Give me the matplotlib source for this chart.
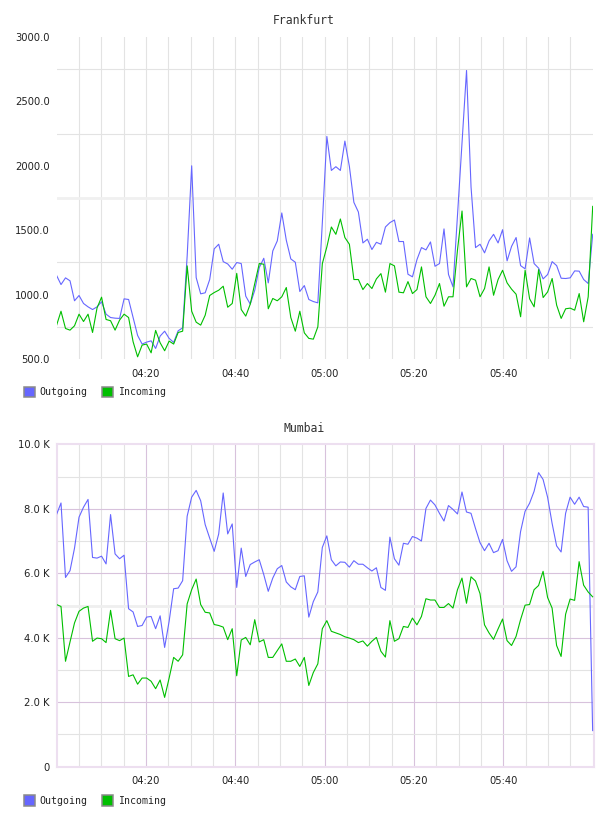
import numpy as np
import matplotlib
matplotlib.use('Agg')
import matplotlib.pyplot as plt
from matplotlib.patches import Rectangle

# time axis: 120 samples spread from 04:00 to 06:00 (minutes after 04:00)
minutes = np.arange(120) * 120 / 119
tick_pos = [20, 40, 60, 80, 100]
tick_labels = ['04:20', '04:40', '05:00', '05:20', '05:40']

# Frankfurt traffic
fra_out = [1150, 1078, 1130, 1107, 952, 993, 931, 905, 884, 905,
           944, 848, 822, 817, 815, 967, 962, 822, 683, 616,
           631, 641, 582, 678, 716, 660, 629, 719, 742, 1300,
           2000, 1132, 1006, 1014, 1117, 1355, 1391, 1256, 1238, 1197,
           1249, 1241, 988, 926, 1034, 1210, 1282, 1091, 1339, 1417,
           1634, 1422, 1277, 1251, 1024, 1070, 962, 946, 936, 1560,
           2228, 1964, 1993, 1964, 2192, 1995, 1716, 1641, 1401, 1430,
           1350, 1406, 1391, 1525, 1559, 1579, 1412, 1412, 1158, 1138,
           1272, 1365, 1347, 1409, 1220, 1241, 1510, 1156, 1060, 1620,
           2180, 2740, 1835, 1365, 1391, 1324, 1417, 1468, 1401, 1504,
           1262, 1375, 1443, 1225, 1200, 1440, 1241, 1205, 1122, 1156,
           1256, 1225, 1127, 1125, 1130, 1184, 1182, 1117, 1086, 1468]
fra_in = [760, 871, 737, 724, 758, 848, 791, 848, 706, 897,
          980, 807, 797, 724, 802, 848, 822, 634, 517, 608,
          616, 548, 722, 626, 564, 639, 616, 706, 716, 1223,
          871, 786, 763, 840, 993, 1016, 1034, 1065, 902, 931,
          1165, 884, 833, 926, 1086, 1241, 1236, 890, 970, 952,
          983, 1055, 822, 716, 871, 703, 660, 654, 750, 1241,
          1370, 1525, 1468, 1587, 1443, 1391, 1117, 1117, 1039, 1086,
          1047, 1122, 1163, 1019, 1241, 1223, 1019, 1014, 1101, 1008,
          1039, 1215, 983, 931, 995, 1086, 910, 983, 983, 1350,
          1649, 1060, 1125, 1112, 983, 1047, 1215, 995, 1117, 1189,
          1091, 1042, 1003, 828, 1189, 967, 905, 1194, 977, 1021,
          1125, 918, 815, 890, 895, 879, 1008, 789, 983, 1685]

# Mumbai traffic (thousands)
mum_out_k = [7.82, 8.18, 5.87, 6.08, 6.78, 7.74, 8.05, 8.29, 6.49, 6.47,
             6.53, 6.29, 7.82, 6.60, 6.45, 6.56, 4.90, 4.80, 4.35, 4.38,
             4.64, 4.66, 4.28, 4.68, 3.70, 4.51, 5.52, 5.54, 5.77, 7.77,
             8.36, 8.57, 8.25, 7.51, 7.09, 6.68, 7.22, 8.49, 7.22, 7.53,
             5.56, 6.78, 5.90, 6.27, 6.35, 6.42, 5.96, 5.44, 5.85, 6.14,
             6.24, 5.73, 5.58, 5.49, 5.90, 5.92, 4.64, 5.12, 5.42, 6.80,
             7.16, 6.42, 6.23, 6.35, 6.34, 6.19, 6.39, 6.28, 6.28, 6.17,
             6.07, 6.17, 5.56, 5.47, 7.12, 6.45, 6.25, 6.93, 6.90, 7.14,
             7.09, 7.00, 8.01, 8.27, 8.12, 7.86, 7.62, 8.10, 7.98, 7.84,
             8.52, 7.90, 7.86, 7.39, 6.95, 6.70, 6.93, 6.64, 6.70, 7.05,
             6.39, 6.06, 6.20, 7.29, 7.92, 8.17, 8.54, 9.12, 8.91, 8.36,
             7.55, 6.85, 6.66, 7.86, 8.36, 8.14, 8.36, 8.07, 8.05, 1.12]
mum_in_k = [5.03, 4.97, 3.27, 3.87, 4.46, 4.82, 4.92, 4.97, 3.89, 3.99,
            3.97, 3.85, 4.85, 3.97, 3.91, 3.99, 2.80, 2.85, 2.56, 2.75,
            2.75, 2.65, 2.42, 2.69, 2.15, 2.75, 3.39, 3.27, 3.47, 5.05,
            5.49, 5.82, 5.03, 4.79, 4.77, 4.41, 4.38, 4.33, 3.94, 4.28,
            2.82, 3.93, 4.01, 3.78, 4.56, 3.87, 3.94, 3.39, 3.39, 3.60,
            3.81, 3.27, 3.27, 3.34, 3.11, 3.39, 2.52, 2.92, 3.19, 4.28,
            4.53, 4.20, 4.15, 4.10, 4.03, 3.99, 3.94, 3.85, 3.90, 3.74,
            3.89, 4.01, 3.58, 3.40, 4.53, 3.89, 3.97, 4.35, 4.32, 4.61,
            4.40, 4.66, 5.21, 5.17, 5.17, 4.94, 4.94, 5.06, 4.92, 5.49,
            5.85, 5.07, 5.89, 5.76, 5.37, 4.40, 4.15, 3.95, 4.27, 4.58,
            3.91, 3.76, 4.04, 4.56, 5.01, 5.03, 5.49, 5.62, 6.06, 5.25,
            4.92, 3.76, 3.42, 4.73, 5.20, 5.16, 6.36, 5.63, 5.42, 5.27]
mum_out = np.array(mum_out_k) * 1000
mum_in = np.array(mum_in_k) * 1000

fra_yticks = [500, 1000, 1500, 2000, 2500, 3000]
mum_yticks = [0, 2000, 4000, 6000, 8000, 10000]
mum_ylabels = ['0', '2.0 K', '4.0 K', '6.0 K', '8.0 K', '10.0 K']

BLUE = '#6666ff'
GREEN = '#00bf00'
GRAY = '#e3e3e3'
MAUVE = '#d8c2dc'
W, H = 608, 816

fig = plt.figure(figsize=(W / 100, H / 100), dpi=100)


def px_axes(left, top, right, bottom):
    return fig.add_axes([left / W, 1 - bottom / H, (right - left) / W, (bottom - top) / H])


def style_ticks(ax, xmax):
    ax.set_xlim(0, xmax)
    ax.set_xticks(tick_pos)
    ax.set_xticklabels(tick_labels)
    ax.tick_params(length=0, labelsize=7.2, colors='#222222')
    ax.tick_params(axis='x', pad=7)
    ax.tick_params(axis='y', pad=4.8)


def legend(y_center):
    for x0, xt, color, label in [(24, 39, BLUE, 'Outgoing'), (102, 118, GREEN, 'Incoming')]:
        fig.add_artist(Rectangle((x0 / W, 1 - (y_center + 5.3) / H), 10.5 / W, 10.5 / H,
                                 transform=fig.transFigure, facecolor=color,
                                 edgecolor='#8a8a8a', lw=1.1))
        fig.text(xt / W, 1 - y_center / H, label, va='center', ha='left',
                 family='DejaVu Sans Mono', size=7.1, color='#222222')


# Frankfurt
ax1 = px_axes(56.5, 37, 592.7, 359)
for s in ax1.spines.values():
    s.set_visible(False)
for m in range(5, 120, 5):
    ax1.axvline(m, color=GRAY, lw=0.8, zorder=0)
for v in [750, 1250, 2250, 2750]:
    ax1.axhline(v, color=GRAY, lw=0.8, zorder=0)
ax1.axhline(1750, color='#f0f0f0', lw=2, zorder=0)
ax1.plot(minutes, fra_out, color=BLUE, lw=0.8)
ax1.plot(minutes, fra_in, color=GREEN, lw=0.8)
ax1.set_ylim(500, 3000)
ax1.set_yticks(fra_yticks)
ax1.set_yticklabels([f'{v:.1f}' for v in fra_yticks])
style_ticks(ax1, 120)
fig.text(0.5, 1 - 20 / H, 'Frankfurt', ha='center', va='center',
         family='DejaVu Sans Mono', size=8.3, color='#333333')
legend(392)

# Mumbai
ax2 = px_axes(56.5, 444.3, 594.2, 766.7)
for s in ax2.spines.values():
    s.set_color('#eddff0')
    s.set_linewidth(1.5)
for m in range(5, 120, 5):
    ax2.axvline(m, color=MAUVE if m % 20 == 0 else GRAY, lw=0.8, zorder=0)
for v in range(1000, 10000, 1000):
    if v == 5000:
        ax2.axhline(v, color='#efefef', lw=2, zorder=0)
    else:
        ax2.axhline(v, color=MAUVE if v % 2000 == 0 else GRAY, lw=0.8, zorder=0)
ax2.plot(minutes, mum_out, color=BLUE, lw=0.8, zorder=3)
ax2.plot(minutes, mum_in, color=GREEN, lw=0.8, zorder=3)
ax2.set_ylim(0, 10000)
ax2.set_yticks(mum_yticks)
ax2.set_yticklabels(mum_ylabels)
style_ticks(ax2, 120.35)
fig.text(0.5, 1 - 428.5 / H, 'Mumbai', ha='center', va='center',
         family='DejaVu Sans Mono', size=8.3, color='#333333')
legend(800.5)

fig.savefig('out.png', dpi=100)
